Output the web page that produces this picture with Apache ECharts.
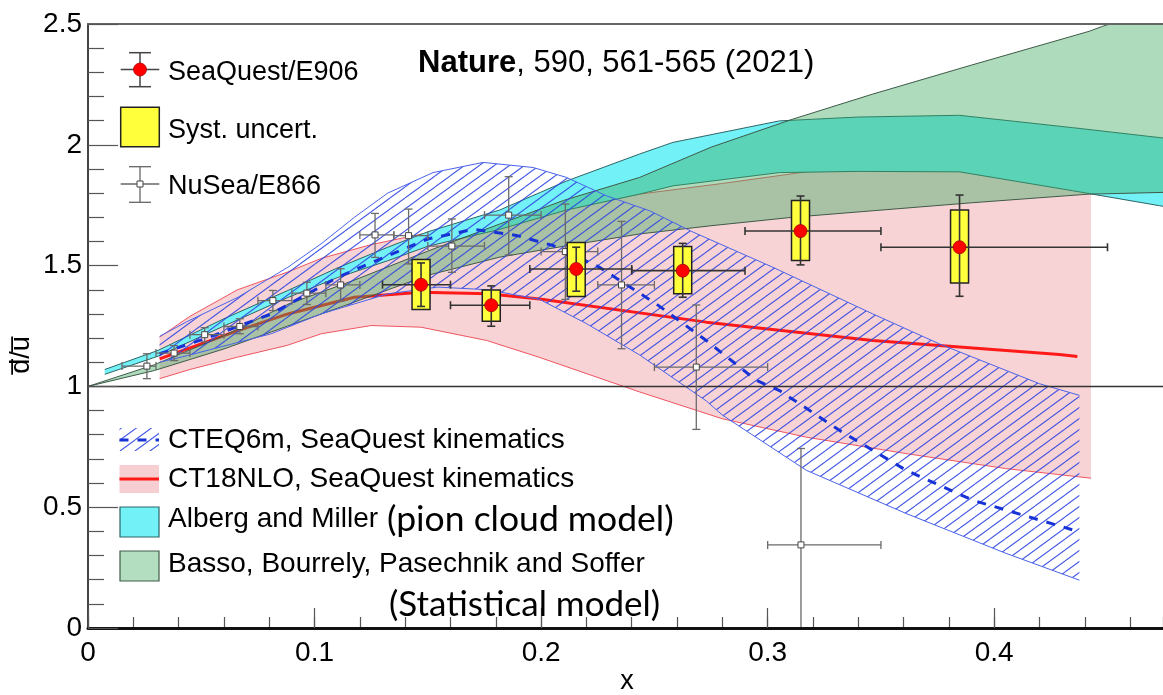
<!DOCTYPE html>
<html><head><meta charset="utf-8">
<script src="https://cdn.jsdelivr.net/npm/echarts@6/dist/echarts.min.js"></script>
<style>html,body{margin:0;padding:0;background:#fff}#main{width:1163px;height:695px}</style>
</head><body><div id="main"></div>
<script>
// ---------------- axis settings ----------------
const X_MIN = 0, X_MAX = 0.4745, X_STEP = 0.1, X_MINOR_STEP = 0.02;
const Y_MIN = 0, Y_MAX = 2.5, Y_STEP = 0.5;
const REF_LINE_Y = 1;

// ---------------- SeaQuest / E906 ----------------
const e906X      = [0.147, 0.178, 0.2155, 0.2625, 0.3145, 0.3847];
const e906Y      = [1.421, 1.336, 1.486, 1.479, 1.643, 1.576];
const e906StatLo = [1.331, 1.249, 1.394, 1.369, 1.503, 1.373];
const e906StatHi = [1.511, 1.416, 1.576, 1.592, 1.788, 1.792];
const e906SysLo  = [1.318, 1.270, 1.372, 1.383, 1.521, 1.428];
const e906SysHi  = [1.525, 1.399, 1.596, 1.579, 1.769, 1.730];
const e906XLo    = [0.130, 0.160, 0.195, 0.240, 0.290, 0.350];
const e906XHi    = [0.160, 0.195, 0.240, 0.290, 0.350, 0.450];

// ---------------- NuSea / E866 ----------------
const e866X  = [0.026, 0.038, 0.0515, 0.067, 0.0816, 0.0966, 0.1115, 0.1267, 0.1415, 0.1606, 0.1857, 0.2107, 0.2355, 0.2685, 0.3147];
const e866Y  = [1.084, 1.138, 1.214, 1.248, 1.355, 1.386, 1.420, 1.627, 1.624, 1.581, 1.709, 1.558, 1.420, 1.080, 0.344];
const e866Lo = [1.032, 1.107, 1.184, 1.218, 1.314, 1.339, 1.353, 1.534, 1.507, 1.472, 1.544, 1.360, 1.156, 0.822, -0.06];
const e866Hi = [1.135, 1.169, 1.243, 1.280, 1.397, 1.431, 1.487, 1.716, 1.734, 1.693, 1.868, 1.755, 1.683, 1.337, 0.743];
const e866XLo = [0.015, 0.030, 0.045, 0.060, 0.075, 0.090, 0.105, 0.120, 0.135, 0.150, 0.175, 0.200, 0.225, 0.250, 0.300];
const e866XHi = [0.030, 0.045, 0.060, 0.075, 0.090, 0.105, 0.120, 0.135, 0.150, 0.175, 0.200, 0.225, 0.250, 0.300, 0.350];

// ---------------- CT18NLO band ----------------
const ct18X  = [0.0316, 0.045, 0.066, 0.088, 0.103, 0.125, 0.147, 0.176, 0.199, 0.2435, 0.280, 0.317, 0.361, 0.405, 0.4427];
const ct18Hi = [1.204, 1.290, 1.400, 1.473, 1.530, 1.587, 1.630, 1.680, 1.720, 1.796, 1.840, 1.888, 1.930, 1.965, 1.990];
const ct18Lo = [1.032, 1.070, 1.121, 1.170, 1.218, 1.252, 1.245, 1.190, 1.121, 0.977, 0.866, 0.790, 0.722, 0.660, 0.620];
const ct18MidX = [0.0316, 0.0662, 0.0882, 0.1176, 0.147, 0.1764, 0.1994, 0.2729, 0.3464, 0.4288, 0.4367];
const ct18Mid  = [1.114, 1.231, 1.300, 1.369, 1.390, 1.383, 1.362, 1.266, 1.190, 1.132, 1.124];

// ---------------- CTEQ6m band ----------------
const cteqHiX = [0.0316, 0.0441, 0.0662, 0.0882, 0.1029, 0.1176, 0.1323, 0.1523, 0.1744, 0.1965, 0.2112, 0.2288, 0.2479, 0.267, 0.3023, 0.3464, 0.3758, 0.420, 0.4376];
const cteqHi  = [1.207, 1.270, 1.369, 1.493, 1.590, 1.700, 1.800, 1.885, 1.927, 1.906, 1.865, 1.789, 1.727, 1.639, 1.493, 1.300, 1.176, 1.011, 0.963];
const cteqLoX = [0.0316, 0.0441, 0.0809, 0.1029, 0.1323, 0.1544, 0.1765, 0.1994, 0.220, 0.2435, 0.2729, 0.2802, 0.317, 0.3611, 0.4052, 0.4376];
const cteqLo  = [1.100, 1.128, 1.218, 1.300, 1.383, 1.411, 1.400, 1.360, 1.260, 1.130, 0.940, 0.880, 0.653, 0.474, 0.309, 0.198];
const cteqMidX = [0.0316, 0.0515, 0.0809, 0.1103, 0.1323, 0.150, 0.170, 0.189, 0.2053, 0.2258, 0.2509, 0.2729, 0.295, 0.3052, 0.3317, 0.3611, 0.3905, 0.4376];
const cteqMid  = [1.135, 1.197, 1.300, 1.452, 1.541, 1.610, 1.650, 1.625, 1.583, 1.493, 1.341, 1.190, 1.025, 0.983, 0.818, 0.653, 0.529, 0.398];

// ---------------- Alberg & Miller (pion cloud) ----------------
const amX  = [0.0074, 0.0309, 0.060, 0.0882, 0.110, 0.1323, 0.150, 0.1817, 0.2112, 0.2435, 0.2582, 0.3052, 0.340, 0.3847, 0.4346, 0.4729, 0.5];
const amHi = [1.070, 1.149, 1.280, 1.397, 1.490, 1.576, 1.640, 1.730, 1.850, 1.962, 2.010, 2.099, 2.115, 2.122, 2.071, 2.030, 2.000];
const amLo = [1.050, 1.125, 1.250, 1.368, 1.450, 1.520, 1.580, 1.650, 1.730, 1.796, 1.830, 1.885, 1.890, 1.888, 1.810, 1.748, 1.700];

// ---------------- Basso et al. (statistical) ----------------
const bbX  = [0.0, 0.0294, 0.060, 0.0882, 0.1176, 0.150, 0.1817, 0.210, 0.2435, 0.275, 0.311, 0.3464, 0.390, 0.442, 0.4477, 0.4745, 0.5];
const bbHi = [1.000, 1.090, 1.210, 1.340, 1.440, 1.560, 1.672, 1.770, 1.865, 1.990, 2.106, 2.210, 2.330, 2.470, 2.490, 2.570, 2.640];
const bbLo = [1.000, 1.066, 1.155, 1.250, 1.349, 1.460, 1.535, 1.580, 1.631, 1.665, 1.700, 1.727, 1.760, 1.796, 1.797, 1.803, 1.810];

// ---------------- helpers ----------------
const FONT = '"Liberation Sans", Arial, Helvetica, sans-serif';
const FONT2 = 'Lato, "Open Sans", sans-serif';
function zip(xs, ys) { return xs.map((x, i) => [x, ys[i]]); }

function makeHatch(w, h, color, lw) {
  const c = document.createElement('canvas');
  c.width = w; c.height = h;
  const g = c.getContext('2d');
  g.strokeStyle = color; g.lineWidth = lw;
  g.beginPath();
  for (let n = -1; n <= 1; n++) { g.moveTo(0, h + n * h); g.lineTo(w, n * h); }
  g.stroke();
  return c;
}
const hatchCanvas = makeHatch(15, 11, 'rgba(45,70,225,0.9)', 1.1);
const hatchFill = { image: hatchCanvas, repeat: 'repeat' };

function band(name, xsHi, hi, xsLo, lo, style, z) {
  return {
    type: 'custom', name, z, clip: true, silent: true,
    data: [[xsHi[0], hi[0]]],
    renderItem(params, api) {
      const pts = [];
      for (let i = 0; i < xsHi.length; i++) pts.push(api.coord([xsHi[i], hi[i]]));
      for (let i = xsLo.length - 1; i >= 0; i--) pts.push(api.coord([xsLo[i], lo[i]]));
      return { type: 'polygon', shape: { points: pts }, style };
    }
  };
}
function edge(name, xs, ys, color, width, z, dash) {
  return {
    type: 'line', name, z, silent: true, showSymbol: false, symbol: 'none', clip: true,
    data: zip(xs, ys),
    lineStyle: { color, width, type: dash || 'solid' },
    animation: false
  };
}
function errRender(color, lw, cap, marker) {
  return function (params, api) {
    const x = api.value(0), y = api.value(1);
    const c = api.coord([x, y]);
    const pT = api.coord([x, api.value(3)]), pB = api.coord([x, api.value(2)]);
    const pL = api.coord([api.value(4), y]), pR = api.coord([api.value(5), y]);
    const st = { stroke: color, lineWidth: lw };
    const ch = [
      { type: 'line', shape: { x1: c[0], y1: pT[1], x2: c[0], y2: pB[1] }, style: st },
      { type: 'line', shape: { x1: c[0] - cap, y1: pT[1], x2: c[0] + cap, y2: pT[1] }, style: st },
      { type: 'line', shape: { x1: c[0] - cap, y1: pB[1], x2: c[0] + cap, y2: pB[1] }, style: st },
      { type: 'line', shape: { x1: pL[0], y1: c[1], x2: pR[0], y2: c[1] }, style: st },
      { type: 'line', shape: { x1: pL[0], y1: c[1] - cap, x2: pL[0], y2: c[1] + cap }, style: st },
      { type: 'line', shape: { x1: pR[0], y1: c[1] - cap, x2: pR[0], y2: c[1] + cap }, style: st }
    ];
    ch.push(marker(c));
    return { type: 'group', children: ch };
  };
}

const e906Data = e906X.map((x, i) => [x, e906Y[i], e906StatLo[i], e906StatHi[i], e906XLo[i], e906XHi[i]]);
const e906Sys  = e906X.map((x, i) => [x, e906SysLo[i], e906SysHi[i]]);
const e866Data = e866X.map((x, i) => [x, e866Y[i], e866Lo[i], e866Hi[i], e866XLo[i], e866XHi[i]]);

const PINK = 'rgba(232,118,128,0.32)';
const CYAN = '#72f1f6';
const GREEN = 'rgba(60,170,95,0.42)';
const GREEN_LEG = '#b3dfc0';

const series = [
  band('CT18NLO band', ct18X, ct18Hi, ct18X, ct18Lo, { fill: PINK }, 1),
  edge('CT18 upper', ct18X, ct18Hi, '#ee5560', 1, 1),
  edge('CT18 lower', ct18X, ct18Lo, '#ee5560', 1, 1),
  edge('CT18NLO, SeaQuest kinematics', ct18MidX, ct18Mid, '#ff1a1a', 3, 2),
  band('Alberg and Miller', amX, amHi, amX, amLo, { fill: CYAN }, 3),
  edge('AM upper', amX, amHi, '#2d6466', 1, 3),
  edge('AM lower', amX, amLo, '#2d6466', 1, 3),
  band('Basso, Bourrely, Pasechnik and Soffer', bbX, bbHi, bbX, bbLo, { fill: GREEN }, 4),
  edge('BB upper', bbX, bbHi, '#3f5a48', 1, 4),
  edge('BB lower', bbX, bbLo, '#3f5a48', 1, 4),
  band('CTEQ6m band', cteqHiX, cteqHi, cteqLoX, cteqLo, { fill: hatchFill }, 5),
  edge('CTEQ upper', cteqHiX, cteqHi, '#4a63ea', 1, 6),
  edge('CTEQ lower', cteqLoX, cteqLo, '#4a63ea', 1, 6),
  edge('CTEQ6m, SeaQuest kinematics', cteqMidX, cteqMid, '#1733d6', 3, 6, [9, 9]),
  edge('ratio = 1', [X_MIN, X_MAX], [REF_LINE_Y, REF_LINE_Y], '#333', 1.5, 7),
  {
    type: 'custom', name: 'NuSea/E866', z: 8, clip: true, data: e866Data,
    encode: { x: 0, y: 1 },
    renderItem: errRender('#6a6a6a', 1.3, 4, c => ({
      type: 'rect', shape: { x: c[0] - 3, y: c[1] - 3, width: 6, height: 6 },
      style: { fill: '#fff', stroke: '#444', lineWidth: 1 }
    }))
  },
  {
    type: 'custom', name: 'Syst. uncert.', z: 9, clip: true, data: e906Sys,
    encode: { x: 0, y: [1, 2] },
    renderItem(params, api) {
      const top = api.coord([api.value(0), api.value(2)]);
      const bot = api.coord([api.value(0), api.value(1)]);
      return { type: 'rect', shape: { x: top[0] - 9, y: top[1], width: 18, height: bot[1] - top[1] },
               style: { fill: '#ffff3c', stroke: '#222', lineWidth: 1.5 } };
    }
  },
  {
    type: 'custom', name: 'SeaQuest/E906', z: 10, clip: true, data: e906Data,
    encode: { x: 0, y: 1 },
    renderItem: errRender('#333', 1.6, 4, c => ({
      type: 'circle', shape: { cx: c[0], cy: c[1], r: 6.5 },
      style: { fill: '#ff0000', stroke: '#a00', lineWidth: 0.8 }
    }))
  }
];

// ---------------- legend & texts (graphic) ----------------
const txt = (x, y, text, size, extra) => ({
  type: 'text', x, y, z: 100,
  style: Object.assign({ text, fontSize: size, fontFamily: FONT, fill: '#000', textAlign: 'left', textVerticalAlign: 'middle' }, (extra || {}))
});
const ln = (x1, y1, x2, y2, stroke, lw, dash) => ({ type: 'line', z: 100, shape: { x1, y1, x2, y2 }, style: { stroke, lineWidth: lw, lineDash: dash || null } });

const graphic = [
  // top legend
  ln(140, 52.7, 140, 86.7, '#444', 1.5), ln(129, 52.7, 151, 52.7, '#444', 1.5), ln(129, 86.7, 151, 86.7, '#444', 1.5),
  ln(120.7, 69.5, 159.3, 69.5, '#444', 1.5),
  { type: 'circle', z: 101, shape: { cx: 140, cy: 69.5, r: 6.5 }, style: { fill: '#ff0000', stroke: '#a00', lineWidth: 0.8 } },
  txt(168, 73, 'SeaQuest/E906', 27),
  { type: 'rect', z: 100, shape: { x: 120.7, y: 107.3, width: 38.6, height: 39.4 }, style: { fill: '#ffff3c', stroke: '#222', lineWidth: 1.5 } },
  txt(168, 131, 'Syst. uncert.', 27),
  ln(140, 166.7, 140, 202.3, '#666', 1.3), ln(129, 166.7, 151, 166.7, '#666', 1.3), ln(129, 202.3, 151, 202.3, '#666', 1.3),
  ln(120.7, 184, 159.3, 184, '#666', 1.3),
  { type: 'rect', z: 101, shape: { x: 137, y: 181, width: 6, height: 6 }, style: { fill: '#fff', stroke: '#444', lineWidth: 1 } },
  txt(168, 187, 'NuSea/E866', 27),
  // annotation
  txt(418, 63, '{b|Nature}, 590, 561-565 (2021)', 31, { rich: { b: { fontWeight: 'bold', fontSize: 31, fontFamily: FONT } } }),
  // bottom legend
  { type: 'rect', z: 100, shape: { x: 119.5, y: 428, width: 39.5, height: 23 }, style: { fill: hatchFill } },
  ln(119.5, 440, 159, 440, '#1733d6', 3, [9, 9]),
  txt(168, 440, 'CTEQ6m, SeaQuest kinematics', 28),
  { type: 'rect', z: 100, shape: { x: 119.5, y: 465, width: 39.5, height: 28 }, style: { fill: 'rgba(232,118,128,0.35)' } },
  ln(119.5, 479, 159, 479, '#ff1a1a', 3),
  txt(168, 479, 'CT18NLO, SeaQuest kinematics', 28),
  { type: 'rect', z: 100, shape: { x: 120, y: 507, width: 39, height: 30 }, style: { fill: CYAN, stroke: '#2d6466', lineWidth: 1.2 } },
  txt(168, 519, 'Alberg and Miller', 28),
  txt(387, 520, '(pion cloud model)', 35.5, { fontFamily: FONT2 }),
  { type: 'rect', z: 100, shape: { x: 120, y: 551, width: 39, height: 30 }, style: { fill: GREEN_LEG, stroke: '#3f5a48', lineWidth: 1.2 } },
  txt(168, 564.5, 'Basso, Bourrely, Pasechnik and Soffer', 28),
  txt(389, 605, '(Statistical model)', 35, { fontFamily: FONT2 }),
  // axis titles
  { type: 'text', z: 100, x: 22, y: 355, rotation: Math.PI / 2,
    style: { text: 'd\u0305/u\u0305', fontSize: 27, fontFamily: FONT, fill: '#000', textAlign: 'center', textVerticalAlign: 'middle' } },
  txt(627, 682, 'x', 27, { textAlign: 'center' })
];

const isMajor = v => Math.abs(v / X_STEP - Math.round(v / X_STEP)) < 1e-6;

const chart = echarts.init(document.getElementById('main'), null, { renderer: 'canvas' });
chart.setOption({
  animation: false,
  backgroundColor: '#fff',
  grid: { left: 88, top: 24, right: 0, bottom: 67, containLabel: false },
  xAxis: [{
    type: 'value', min: X_MIN, max: X_MAX, interval: X_STEP, z: 20,
    axisLine: { show: true, onZero: false, lineStyle: { color: '#111', width: 3 } },
    axisTick: { show: true, inside: true, length: 20, lineStyle: { color: '#555', width: 1.2 } },
    splitLine: { show: false },
    axisLabel: { margin: 11, color: '#000', fontSize: 28, fontFamily: FONT, showMaxLabel: false,
      formatter: v => (isMajor(v) ? String(Math.round(v * 10) / 10) : '') }
  }, {
    type: 'value', min: X_MIN, max: X_MAX, position: 'top', z: 20,
    axisLine: { show: true, onZero: false, lineStyle: { color: '#666', width: 2 } },
    axisTick: { show: false }, axisLabel: { show: false }, splitLine: { show: false }
  }, {
    type: 'value', min: X_MIN, max: X_MAX, interval: X_MINOR_STEP, position: 'bottom', offset: 0, z: 19,
    axisLine: { show: false, onZero: false },
    axisTick: { show: true, inside: true, length: 11, lineStyle: { color: '#555', width: 1.2 } },
    axisLabel: { show: false }, splitLine: { show: false }
  }],
  yAxis: {
    type: 'value', min: Y_MIN, max: Y_MAX, interval: Y_STEP, z: 20,
    axisLine: { show: true, onZero: false, lineStyle: { color: '#444', width: 2 } },
    axisTick: { show: true, inside: true, length: 30, lineStyle: { color: '#555', width: 1.2 } },
    minorTick: { show: true, splitNumber: 5, length: 16, lineStyle: { color: '#555', width: 1.2 } },
    splitLine: { show: false },
    axisLabel: { margin: 6, color: '#000', fontSize: 28, fontFamily: FONT }
  },
  series,
  graphic
});
</script>
</body></html>
